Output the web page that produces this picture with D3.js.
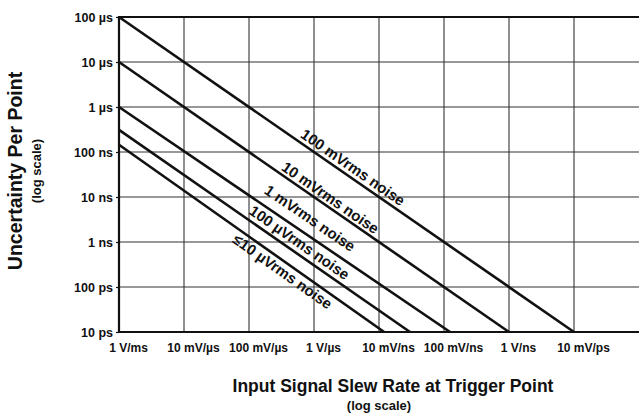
<!DOCTYPE html>
<html>
<head>
<meta charset="utf-8">
<script src="https://cdn.jsdelivr.net/npm/d3@7"></script>
<style>
  body { margin: 0; background: #fff; }
  svg { display: block; font-family: "Liberation Sans", Arial, sans-serif; }
</style>
</head>
<body>
<script>
// Chart data
var slewTicks = [1e3, 1e4, 1e5, 1e6, 1e7, 1e8, 1e9, 1e10]; // V/s
var slewLabels = ["1 V/ms", "10 mV/\u00b5s", "100 mV/\u00b5s", "1 V/\u00b5s", "10 mV/ns", "100 mV/ns", "1 V/ns", "10 mV/ps"];
var timeTicks = [1e-4, 1e-5, 1e-6, 1e-7, 1e-8, 1e-9, 1e-10, 1e-11]; // s
var timeLabels = ["100 \u00b5s", "10 \u00b5s", "1 \u00b5s", "100 ns", "10 ns", "1 ns", "100 ps", "10 ps"];

var noiseNames = ["100 mVrms noise", "10 mVrms noise", "1 mVrms noise", "100 \u00b5Vrms noise", "\u226410 \u00b5Vrms noise"];
var startUncertainty = [1e-4, 1e-5, 1e-6, 3.1e-7, 1.45e-7]; // at 1 V/ms
var endSlew = [1e10, 1e9, 1.24e8, 3e7, 1.2e7];            // where line reaches 10 ps
var labelSlew = [4e6, 1.8e6, 8.7e5, 6e5, 3.3e5];          // label centre along line

// label offset from its line (px, vertical)
var labelOffset = [-12, -11, -19, -13, 11];

var width = 639, height = 415;
var plotL = 119, plotR = 639, plotT = 17, plotB = 332;

var svg = d3.select("body").append("svg")
  .attr("width", width)
  .attr("height", height);

var x = d3.scaleLog().domain([1e3, 1e11]).range([plotL, plotR]);
var y = d3.scaleLog().domain([1e-11, 1e-4]).range([plotB, plotT]);

// grid
svg.append("g").selectAll("line")
  .data(slewTicks.slice(1))
  .enter().append("line")
  .attr("x1", function(d) { return x(d); })
  .attr("x2", function(d) { return x(d); })
  .attr("y1", plotT)
  .attr("y2", plotB)
  .attr("stroke", "#333")
  .attr("stroke-width", 1.1);

svg.append("g").selectAll("line")
  .data(timeTicks.slice(1, -1))
  .enter().append("line")
  .attr("x1", plotL)
  .attr("x2", plotR)
  .attr("y1", function(d) { return y(d); })
  .attr("y2", function(d) { return y(d); })
  .attr("stroke", "#333")
  .attr("stroke-width", 1.1);

// frame (top, left, bottom)
svg.append("path")
  .attr("d", "M" + plotR + "," + plotT + "H" + plotL + "V" + plotB + "H" + plotR)
  .attr("fill", "none")
  .attr("stroke", "#111")
  .attr("stroke-width", 2.2);

// y axis labels
var yAxis = svg.append("g")
  .attr("transform", "translate(" + plotL + ",0)")
  .call(d3.axisLeft(y).tickValues(timeTicks).tickSize(3)
    .tickFormat(function(d, i) { return timeLabels[i]; }));
yAxis.select(".domain").remove();
yAxis.selectAll(".tick line").attr("stroke", "#111").attr("stroke-width", 1.2);
yAxis.selectAll(".tick text")
  .attr("x", -6)
  .attr("fill", "#111")
  .style("font-size", "12.5px")
  .style("font-weight", "bold")
  .style("font-family", "'Liberation Sans', Arial, sans-serif");

// x axis labels
var xAxis = svg.append("g")
  .attr("transform", "translate(0," + plotB + ")")
  .call(d3.axisBottom(x).tickValues(slewTicks).tickSize(0)
    .tickFormat(function(d, i) { return slewLabels[i]; }));
xAxis.select(".domain").remove();
xAxis.selectAll(".tick text")
  .attr("dx", 9)
  .attr("y", 11)
  .attr("fill", "#111")
  .style("font-size", "12px")
  .style("font-weight", "bold")
  .style("font-family", "'Liberation Sans', Arial, sans-serif");

// noise lines
var lines = noiseNames.map(function(name, i) {
  return {
    name: name,
    x1: x(1e3), y1: y(startUncertainty[i]),
    x2: x(endSlew[i]), y2: y(1e-11),
    at: labelSlew[i],
    off: labelOffset[i]
  };
});

svg.append("g").selectAll("line")
  .data(lines)
  .enter().append("line")
  .attr("x1", function(d) { return d.x1; })
  .attr("y1", function(d) { return d.y1; })
  .attr("x2", function(d) { return d.x2; })
  .attr("y2", function(d) { return d.y2; })
  .attr("stroke", "#111")
  .attr("stroke-width", 2.6);

svg.append("g").selectAll("text")
  .data(lines)
  .enter().append("text")
  .attr("transform", function(d) {
    var cx = x(d.at);
    var t = (cx - d.x1) / (d.x2 - d.x1);
    var cy = d.y1 + t * (d.y2 - d.y1) + d.off;
    var ang = Math.atan2(d.y2 - d.y1, d.x2 - d.x1) * 180 / Math.PI;
    return "translate(" + cx + "," + cy + ") rotate(" + ang + ")";
  })
  .attr("text-anchor", "middle")
  .attr("dominant-baseline", "central")
  .attr("fill", "#111")
  .style("font-size", "15px")
  .style("font-weight", "bold")
  .text(function(d) { return d.name; });

// axis titles
svg.append("text")
  .attr("transform", "translate(15,171) rotate(-90)")
  .attr("text-anchor", "middle")
  .attr("dominant-baseline", "central")
  .attr("fill", "#111")
  .style("font-size", "19.5px")
  .style("font-weight", "bold")
  .text("Uncertainty Per Point");

svg.append("text")
  .attr("transform", "translate(36,171) rotate(-90)")
  .attr("text-anchor", "middle")
  .attr("dominant-baseline", "central")
  .attr("fill", "#111")
  .style("font-size", "13px")
  .style("font-weight", "bold")
  .text("(log scale)");

svg.append("text")
  .attr("x", 393)
  .attr("y", 392)
  .attr("text-anchor", "middle")
  .attr("fill", "#111")
  .style("font-size", "17.5px")
  .style("font-weight", "bold")
  .text("Input Signal Slew Rate at Trigger Point");

svg.append("text")
  .attr("x", 379)
  .attr("y", 410)
  .attr("text-anchor", "middle")
  .attr("fill", "#111")
  .style("font-size", "13px")
  .style("font-weight", "bold")
  .text("(log scale)");
</script>
</body>
</html>
